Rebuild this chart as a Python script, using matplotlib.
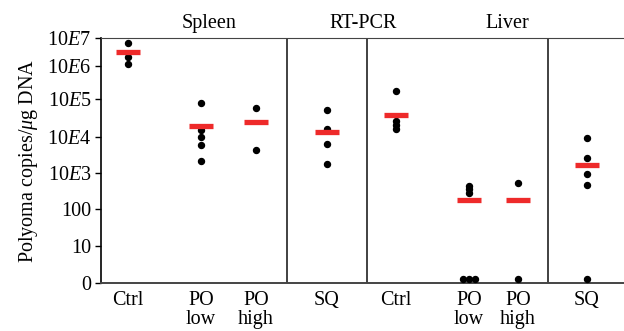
import numpy as np
import matplotlib
matplotlib.use("Agg")
import matplotlib.pyplot as plt

plt.rcParams['font.family'] = ['Liberation Serif', 'DejaVu Serif']
plt.rcParams['mathtext.fontset'] = 'custom'
plt.rcParams['mathtext.rm'] = 'Liberation Serif'
plt.rcParams['mathtext.it'] = 'Liberation Serif:italic'
plt.rcParams['font.size'] = 14.5

# Values, in axis (log) units
spleen_ctrl = [6.58, 6.18, 5.99]
spleen_po_low = [4.93, 4.19, 3.99, 3.78, 3.33]
spleen_po_high = [4.79, 3.64]
spleen_sq = [4.73, 4.22, 3.82, 3.26]
liver_ctrl = [5.25, 4.44, 4.33, 4.22]
liver_po_low = [2.66, 2.57, 2.47, 0.12, 0.12, 0.12]
liver_po_high = [2.73, 0.12]
liver_sq = [3.96, 3.43, 2.99, 2.68, 0.11]

group_means = [6.32, 4.29, 4.40, 4.13, 4.59, 2.27, 2.27, 3.23]
tick_labels = ['Ctrl', 'PO\nlow', 'PO\nhigh', 'SQ', 'Ctrl', 'PO\nlow', 'PO\nhigh', 'SQ']
section_titles = ['Spleen', 'RT-PCR', 'Liver']

y_tick_labels = ['0', '10', '100', r'10$\mathit{E}$3', r'10$\mathit{E}$4',
                 r'10$\mathit{E}$5', r'10$\mathit{E}$6', r'10$\mathit{E}$7']

# layout
x_pos = np.array([27, 100, 155, 226, 295, 368, 417, 486])
sep_pos = [186, 266, 447]
title_pos = [108, 262, 406]
y_tick_pos = [0, 1.02, 2.03, 3.02, 4.0, 5.04, 5.93, 6.71]

groups = [spleen_ctrl, spleen_po_low, spleen_po_high, spleen_sq,
          liver_ctrl, liver_po_low, liver_po_high, liver_sq]

fig = plt.figure(figsize=(6.24, 3.31), dpi=100)
ax = fig.add_axes([101/624, 48/331, 523/624, 245/331])

for i, vals in enumerate(groups):
    vals = np.array(vals)
    xs = np.full(len(vals), float(x_pos[i]))
    zeros = vals < 0.5
    if zeros.sum() > 1:
        n = zeros.sum()
        xs[zeros] = x_pos[i] + (np.arange(n) - (n - 1) / 2) * 6.3
    ax.plot(xs, vals, 'o', color='black', markersize=4.3, clip_on=False, zorder=3)
    ax.hlines(group_means[i], x_pos[i] - 12, x_pos[i] + 12, color='#ee2a2a',
              linewidth=3.8, capstyle='butt', zorder=4)

for s in sep_pos:
    ax.axvline(s, color='#333333', linewidth=1.3)

for t, xp in zip(section_titles, title_pos):
    ax.text(xp, 1.04, t, transform=ax.get_xaxis_transform(), ha='center',
            va='baseline', fontsize=14.5)

ax.set_xlim(0, 523)
ax.set_ylim(0, 6.71)
ax.set_xticks(x_pos)
ax.set_xticklabels(tick_labels, linespacing=1.0)
ax.set_yticks(y_tick_pos)
ax.set_yticklabels(y_tick_labels)
ax.tick_params(axis='x', length=0, pad=6)
ax.tick_params(axis='y', length=4, width=1, pad=3, direction='out')
ax.set_ylabel(r'Polyoma copies/$\mu$g DNA', labelpad=5)

ax.spines['right'].set_visible(False)
ax.spines['top'].set_color('#444444')
ax.spines['bottom'].set_color('#444444')
ax.spines['bottom'].set_linewidth(1.4)
ax.spines['left'].set_linewidth(1.2)

fig.savefig('out.png', dpi=100)
